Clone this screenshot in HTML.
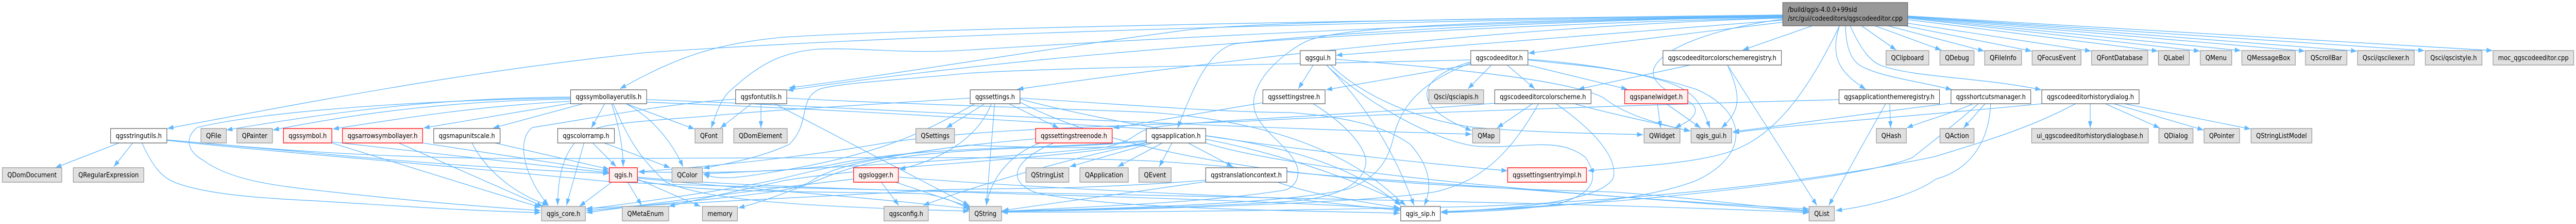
<!DOCTYPE html>
<html lang="en">
<head>
<meta charset="utf-8">
<meta name="viewport" content="width=5589">
<title>qgscodeeditor.cpp include graph</title>
<style>
html,body{margin:0;padding:0;background:#fff;width:100%;height:100%;overflow:hidden}
svg{display:block;width:100vw;height:100vh}
.e path{fill:none;stroke:#63b8ff;stroke-width:1.33;marker-end:url(#a)}
rect{stroke-width:1.33}
.g rect{fill:#e0e0e0;stroke:#999}
.w rect{fill:#fff;stroke:#666}
.r rect{fill:#fff0f0;stroke:#f00}
text{font-family:"DejaVu Sans","Liberation Sans",sans-serif;font-size:13px;fill:#000;text-anchor:middle}
.l{text-anchor:start}
</style>
</head>
<body>
<svg viewBox="0 0 5589 434" preserveAspectRatio="none" xmlns="http://www.w3.org/2000/svg">
<defs>
<marker id="a" markerUnits="userSpaceOnUse" markerWidth="14" markerHeight="10" refX="13.3" refY="4.7" orient="auto"><path d="M0,0L13.3,4.7L0,9.4z" fill="#63b8ff"/></marker>
</defs>
<g class="e">
<!-- root to row 1 -->
<path d="M3932,50L3781,97"/>
<path d="M4039,50L4114,97"/>
<path d="M4068,50L4212,97"/>
<path d="M4096,50L4305,99"/>
<path d="M4132,50L4408,99"/>
<path d="M4139,45L4537,99"/>
<path d="M4139,38L4682,99"/>
<path d="M4139,35L4773,99"/>
<path d="M4139,34L4862,98"/>
<path d="M4139,33L5001,99"/>
<path d="M4139,32L5114,99"/>
<path d="M4139,32L5260,98"/>
<path d="M4139,31L5408,98"/>
<!-- root to row 2 and lower -->
<path d="M4014,50C4040,100 4060,120 4082,127C4150,150 4300,150 4429,174"/>
<path d="M4004,50C4005,90 4015,115 4036,127C4080,150 4180,160 4235,174"/>
<path d="M3991,50C3970,110 3990,140 4048,173"/>
<path d="M3991,50C3900,220 3820,280 3730,300C3650,318 3550,322 3445,331"/>
<path d="M3868,37C3680,60 3570,110 3589,150C3610,190 3690,190 3677,220C3670,235 3650,240 3634,248"/>
<path d="M3868,39L2899,107"/>
<path d="M3868,43L3316,103"/>
<path d="M3868,35C3300,50 2700,110 2207,173"/>
<path d="M3868,33C3300,40 2800,70 2680,85C2620,95 2585,180 2555,248"/>
<path d="M3868,34C3200,50 2400,85 1708,175"/>
<path d="M3868,32C3200,40 2400,80 2100,97C1950,105 1880,92 1779,95C1690,100 1640,130 1579,180C1560,200 1552,225 1543,248"/>
<path d="M3868,31C3000,40 2000,65 1400,102C1000,140 700,193 363,249"/>
<path d="M3868,30C3000,38 2000,55 1700,72C1550,85 1470,110 1345,172"/>
<path d="M3868,31C3300,40 2900,48 2830,82C2790,100 2720,150 2720,200C2720,250 2800,280 2815,325C2820,345 2810,360 2790,368C2600,395 2350,400 2173,410"/>
<path d="M3868,29C3200,36 2700,42 2560,60C2300,90 1900,150 1712,170"/>
<!-- qgsgui -->
<path d="M2849,126L2817,172"/>
<path d="M2898,115C3200,135 3420,160 3480,190C3530,225 3600,240 3667,254"/>
<path d="M2887,126C2950,180 3060,230 3200,247C3350,258 3460,258 3565,261"/>
<path d="M2878,126C2950,190 3020,280 3068,398"/>
<path d="M2878,126C2950,190 3100,270 3200,283C3300,290 3380,262 3440,305C3470,345 3460,375 3380,395C3300,408 3200,410 3127,412"/>
<!-- qgscodeeditor -->
<path d="M3236,126L3185,172"/>
<path d="M3270,126L3330,172"/>
<path d="M3191,120C3090,145 3040,200 3193,253"/>
<path d="M3191,125L2877,174"/>
<path d="M3191,122C3090,157 3040,200 3023,267C3010,320 2980,345 2930,365C2800,395 2400,405 2173,409"/>
<path d="M3191,116C2800,125 2300,130 2100,142C1950,155 1830,160 1780,172C1730,190 1760,240 1712,280C1650,305 1590,315 1526,326"/>
<path d="M3315,115C3400,120 3550,135 3680,173C3790,215 3800,300 3680,350C3550,395 3300,405 3127,410"/>
<path d="M3315,116C3400,125 3500,130 3580,150C3680,170 3690,200 3710,248"/>
<path d="M3315,126L3531,173"/>
<!-- colorscheme registry -->
<path d="M3667,126L3424,173"/>
<path d="M3748,126C3780,190 3775,215 3735,248"/>
<path d="M3748,126L3942,398"/>
<!-- colorscheme -->
<path d="M3325,201L3248,248"/>
<path d="M3338,201C3270,310 3200,355 3112,372C2950,395 2400,408 2173,410"/>
<path d="M3376,201C3470,260 3510,310 3500,345C3470,395 3250,405 3127,411"/>
<path d="M3243,200C2900,225 2560,235 2500,248C2460,255 2470,270 2400,285C2200,305 1800,325 1526,337"/>
<path d="M3416,201C3500,222 3600,240 3668,254"/>
<!-- panel widget -->
<path d="M3596,201L3603,248"/>
<path d="M3615,201L3690,248"/>
<!-- theme registry -->
<path d="M4091,201L3968,398"/>
<path d="M4100,201L4102,248"/>
<path d="M3990,193C3400,207 2900,225 2700,235C2400,245 2100,250 1900,280C1700,310 1500,325 1385,333"/>
<!-- shortcuts -->
<path d="M4233,200C4000,225 3900,240 3760,255"/>
<path d="M4281,201C4220,225 4170,235 4137,248"/>
<path d="M4292,201C4230,250 4170,290 4150,305C4060,340 3700,375 3500,390C3300,402 3200,408 3127,412"/>
<path d="M4307,201L4260,248"/>
<path d="M4319,201C4315,280 4270,330 4200,347C4150,380 4050,400 3983,408"/>
<!-- history dialog -->
<path d="M4430,201C4200,222 3900,240 3760,257"/>
<path d="M4503,201C4400,250 4300,275 4200,303C3900,360 3500,390 3200,400C2700,410 2400,411 2173,411"/>
<path d="M4535,201L4535,248"/>
<path d="M4568,201L4686,248"/>
<path d="M4586,201L4781,252"/>
<path d="M4609,201L4883,250"/>
<!-- settings tree -->
<path d="M2740,199L2415,248"/>
<path d="M2849,201C2920,240 2970,290 2963,320C2950,370 2870,385 2800,390C2600,402 2350,406 2173,409"/>
<!-- settings -->
<path d="M2213,190C2400,200 2650,218 2800,218C2900,225 3000,240 3060,280C3100,320 3110,360 3090,398"/>
<path d="M2189,201L2297,248"/>
<path d="M2158,201L2140,398"/>
<path d="M2151,201C2120,270 2040,310 1951,328"/>
<path d="M2136,201L2053,248"/>
<path d="M2105,190C1850,205 1700,212 1600,220C1450,232 1350,235 1300,247C1260,255 1210,290 1210,398"/>
<path d="M2115,201C2000,260 1900,300 1700,330C1600,345 1560,350 1526,337"/>
<!-- font utils -->
<path d="M1630,201L1563,248"/>
<path d="M1651,201L1651,248"/>
<path d="M1681,201L2103,398"/>
<path d="M1707,190C1900,200 2300,210 2500,218C2750,235 2900,290 3000,360L3050,398"/>
<path d="M1596,192C1450,200 1280,230 1155,247C1120,270 1135,340 1190,398"/>
<!-- symbol layer utils -->
<path d="M1238,188C1000,190 800,205 491,252"/>
<path d="M1238,192C1000,195 800,215 592,252"/>
<path d="M1238,196C1050,205 900,225 722,250"/>
<path d="M1238,200L919,248"/>
<path d="M1265,201L1070,248"/>
<path d="M1238,190C1000,192 600,210 428,247C405,262 400,290 440,310C500,350 600,360 700,370C850,385 1000,398 1173,408"/>
<path d="M1312,201L1283,248"/>
<path d="M1327,201C1345,250 1352,290 1352,323"/>
<path d="M1330,201C1360,260 1380,300 1445,353C1530,385 1700,400 2103,409"/>
<path d="M1358,201C1400,220 1450,260 1482,323"/>
<path d="M1358,201L1507,250"/>
<path d="M1403,193C1800,205 2400,240 3193,260"/>
<path d="M1403,198C1900,215 2200,235 2500,250C2700,270 2900,295 3039,398"/>
<!-- colour ramp -->
<path d="M1267,277L1229,398"/>
<path d="M1286,277L1337,323"/>
<path d="M1311,277C1350,290 1400,307 1454,325"/>
<!-- map unit scale, arrow layer, symbol -->
<path d="M1024,277C1060,340 1130,380 1190,398"/>
<path d="M1074,277L1322,328"/>
<path d="M865,277L1178,400"/>
<path d="M917,277L1322,332"/>
<path d="M720,277L1173,402"/>
<path d="M720,275L1322,335"/>
<!-- string utils -->
<path d="M258,277L120,325"/>
<path d="M288,277L247,323"/>
<path d="M308,277C330,320 350,345 384,355C460,380 600,385 700,390C850,398 1000,408 1173,412"/>
<path d="M362,271L700,298C900,315 1150,330 1322,336"/>
<path d="M362,271C600,290 800,305 1100,307C1600,308 2200,300 2500,312C2650,320 2800,335 2950,345C3300,365 3700,395 3925,410"/>
<path d="M362,272C600,295 900,315 1300,350C1500,368 3300,385 3925,412"/>
<!-- qgis.h -->
<path d="M1327,353L1257,400"/>
<path d="M1362,353L1392,398"/>
<path d="M1383,347L1520,400"/>
<path d="M1383,345C1600,365 1800,375 2110,405"/>
<path d="M1383,343C1700,372 2500,375 3039,405"/>
<path d="M1383,349C1500,372 1650,370 2000,375C2050,380 2080,395 2103,405"/>
<!-- logger -->
<path d="M1949,343C2100,355 2400,370 2800,385L3039,408"/>
<path d="M1943,353L2107,402"/>
<path d="M1912,353L1950,398"/>
<path d="M1852,347C1700,362 1450,390 1272,412"/>
<!-- tree node -->
<path d="M2256,277C2190,300 2150,345 2140,398"/>
<path d="M2286,277C2200,310 2180,350 2247,373C2400,405 2800,408 3037,413"/>
<path d="M2247,269C2100,280 1900,300 1700,345C1600,365 1450,385 1272,405"/>
<!-- application -->
<path d="M2500,277L2321,323"/>
<path d="M2522,277L2425,323"/>
<path d="M2543,277L2515,323"/>
<path d="M2578,277L2675,323"/>
<path d="M2487,280C2400,290 2200,285 2100,281C1950,300 1830,315 1770,345C1740,365 1700,370 1600,380C1480,392 1380,400 1272,408"/>
<path d="M2487,272C2300,290 2000,280 1800,320C1700,335 1520,335 1385,333"/>
<path d="M2487,274C2300,290 2000,282 1850,325C1790,340 1700,380 1602,403"/>
<path d="M2487,277C2300,310 2100,365 2003,398"/>
<path d="M2487,276C2300,310 1900,320 1700,350C1600,370 1520,385 1451,400"/>
<path d="M2616,270C2800,300 3000,370 3039,395"/>
<path d="M2616,277C2800,330 3400,380 3925,405"/>
<!-- translation context -->
<path d="M2616,349C2300,372 2100,362 2000,370C1700,385 1450,395 1272,404"/>
<path d="M2616,352L2175,408"/>
<path d="M2772,353C2850,378 2950,390 3037,403"/>
<!-- settings entry -->
<path d="M2213,192C2500,260 2900,300 3271,331"/>
<path d="M2213,198C2500,330 3000,360 3500,372C3700,385 3850,405 3925,408"/>
</g>
<g class="g"><rect x="5" y="325" width="129" height="28"/><text x="69.5" y="343.5" textLength="107" lengthAdjust="spacingAndGlyphs">QDomDocument</text></g>
<g class="g"><rect x="159" y="325" width="153" height="28"/><text x="235.5" y="343.5" textLength="131" lengthAdjust="spacingAndGlyphs">QRegularExpression</text></g>
<g class="w"><rect x="240" y="249" width="122" height="28"/><text x="301" y="267.5" textLength="100" lengthAdjust="spacingAndGlyphs">qgsstringutils.h</text></g>
<g class="g"><rect x="436" y="249" width="55" height="28"/><text x="463.5" y="267.5" textLength="33" lengthAdjust="spacingAndGlyphs">QFile</text></g>
<g class="g"><rect x="514" y="249" width="77" height="28"/><text x="552.5" y="267.5" textLength="55" lengthAdjust="spacingAndGlyphs">QPainter</text></g>
<g class="r"><rect x="615" y="249" width="105" height="28"/><text x="667.5" y="267.5" textLength="83" lengthAdjust="spacingAndGlyphs">qgssymbol.h</text></g>
<g class="r"><rect x="743" y="249" width="174" height="28"/><text x="830" y="267.5" textLength="152" lengthAdjust="spacingAndGlyphs">qgsarrowsymbollayer.h</text></g>
<g class="w"><rect x="941" y="249" width="144" height="28"/><text x="1013" y="267.5" textLength="122" lengthAdjust="spacingAndGlyphs">qgsmapunitscale.h</text></g>
<g class="w"><rect x="1210" y="249" width="123" height="28"/><text x="1271.5" y="267.5" textLength="101" lengthAdjust="spacingAndGlyphs">qgscolorramp.h</text></g>
<g class="w"><rect x="1238" y="174" width="165" height="27"/><text x="1320.5" y="192" textLength="143" lengthAdjust="spacingAndGlyphs">qgssymbollayerutils.h</text></g>
<g class="r"><rect x="1322" y="325" width="61" height="28"/><text x="1352.5" y="343.5" textLength="39" lengthAdjust="spacingAndGlyphs">qgis.h</text></g>
<g class="g"><rect x="1175" y="400" width="95" height="28"/><text x="1222.5" y="418.5" textLength="73" lengthAdjust="spacingAndGlyphs">qgis_core.h</text></g>
<g class="g"><rect x="1350" y="400" width="101" height="28"/><text x="1400.5" y="418.5" textLength="79" lengthAdjust="spacingAndGlyphs">QMetaEnum</text></g>
<g class="w"><rect x="1596" y="174" width="111" height="27"/><text x="1651.5" y="192" textLength="89" lengthAdjust="spacingAndGlyphs">qgsfontutils.h</text></g>
<g class="g"><rect x="1508" y="249" width="60" height="28"/><text x="1538" y="267.5" textLength="38" lengthAdjust="spacingAndGlyphs">QFont</text></g>
<g class="g"><rect x="1592" y="249" width="116" height="28"/><text x="1650" y="267.5" textLength="94" lengthAdjust="spacingAndGlyphs">QDomElement</text></g>
<g class="g"><rect x="1987" y="249" width="84" height="28"/><text x="2029" y="267.5" textLength="62" lengthAdjust="spacingAndGlyphs">QSettings</text></g>
<g class="g"><rect x="1458" y="325" width="66" height="28"/><text x="1491" y="343.5" textLength="44" lengthAdjust="spacingAndGlyphs">QColor</text></g>
<g class="r"><rect x="1852" y="325" width="97" height="28"/><text x="1900.5" y="343.5" textLength="75" lengthAdjust="spacingAndGlyphs">qgslogger.h</text></g>
<g class="g"><rect x="1524" y="400" width="76" height="28"/><text x="1562" y="418.5" textLength="54" lengthAdjust="spacingAndGlyphs">memory</text></g>
<g class="g"><rect x="1918" y="400" width="96" height="28"/><text x="1966" y="418.5" textLength="74" lengthAdjust="spacingAndGlyphs">qgsconfig.h</text></g>
<g class="w"><rect x="2105" y="174" width="108" height="27"/><text x="2159" y="192" textLength="86" lengthAdjust="spacingAndGlyphs">qgssettings.h</text></g>
<g class="r"><rect x="2247" y="249" width="166" height="28"/><text x="2330" y="267.5" textLength="144" lengthAdjust="spacingAndGlyphs">qgssettingstreenode.h</text></g>
<g class="w"><rect x="2487" y="249" width="129" height="28"/><text x="2551.5" y="267.5" textLength="107" lengthAdjust="spacingAndGlyphs">qgsapplication.h</text></g>
<g class="g"><rect x="2226" y="325" width="93" height="28"/><text x="2272.5" y="343.5" textLength="71" lengthAdjust="spacingAndGlyphs">QStringList</text></g>
<g class="g"><rect x="2343" y="325" width="105" height="28"/><text x="2395.5" y="343.5" textLength="83" lengthAdjust="spacingAndGlyphs">QApplication</text></g>
<g class="g"><rect x="2471" y="325" width="70" height="28"/><text x="2506" y="343.5" textLength="48" lengthAdjust="spacingAndGlyphs">QEvent</text></g>
<g class="w"><rect x="2616" y="325" width="176" height="28"/><text x="2704" y="343.5" textLength="154" lengthAdjust="spacingAndGlyphs">qgstranslationcontext.h</text></g>
<g class="g"><rect x="2103" y="400" width="70" height="28"/><text x="2138" y="418.5" textLength="48" lengthAdjust="spacingAndGlyphs">QString</text></g>
<g class="w"><rect x="2740" y="174" width="135" height="27"/><text x="2807.5" y="192" textLength="113" lengthAdjust="spacingAndGlyphs">qgssettingstree.h</text></g>
<g class="w"><rect x="2821" y="98" width="77" height="28"/><text x="2859.5" y="116.5" textLength="55" lengthAdjust="spacingAndGlyphs">qgsgui.h</text></g>
<g class="w"><rect x="3191" y="98" width="124" height="28"/><text x="3253" y="116.5" textLength="102" lengthAdjust="spacingAndGlyphs">qgscodeeditor.h</text></g>
<g class="g"><rect x="3100" y="174" width="119" height="27"/><text x="3159.5" y="192" textLength="97" lengthAdjust="spacingAndGlyphs">Qsci/qsciapis.h</text></g>
<g class="w"><rect x="3243" y="174" width="209" height="27"/><text x="3347.5" y="192" textLength="187" lengthAdjust="spacingAndGlyphs">qgscodeeditorcolorscheme.h</text></g>
<g class="g"><rect x="3195" y="249" width="59" height="28"/><text x="3224.5" y="267.5" textLength="37" lengthAdjust="spacingAndGlyphs">QMap</text></g>
<g class="r"><rect x="3271" y="325" width="171" height="28"/><text x="3356.5" y="343.5" textLength="149" lengthAdjust="spacingAndGlyphs">qgssettingsentryimpl.h</text></g>
<g class="w"><rect x="3039" y="400" width="86" height="28"/><text x="3082" y="418.5" textLength="64" lengthAdjust="spacingAndGlyphs">qgis_sip.h</text></g>
<g class="w"><rect x="3608" y="98" width="257" height="28"/><text x="3736.5" y="116.5" textLength="235" lengthAdjust="spacingAndGlyphs">qgscodeeditorcolorschemeregistry.h</text></g>
<g class="g"><rect x="4092" y="98" width="93" height="28"/><text x="4138.5" y="116.5" textLength="71" lengthAdjust="spacingAndGlyphs">QClipboard</text></g>
<g class="r"><rect x="3525" y="174" width="137" height="27"/><text x="3593.5" y="192" textLength="115" lengthAdjust="spacingAndGlyphs">qgspanelwidget.h</text></g>
<g class="w"><rect x="3990" y="174" width="218" height="27"/><text x="4099" y="192" textLength="196" lengthAdjust="spacingAndGlyphs">qgsapplicationthemeregistry.h</text></g>
<g class="g"><rect x="3567" y="249" width="78" height="28"/><text x="3606" y="267.5" textLength="56" lengthAdjust="spacingAndGlyphs">QWidget</text></g>
<g class="g"><rect x="3669" y="249" width="88" height="28"/><text x="3713" y="267.5" textLength="66" lengthAdjust="spacingAndGlyphs">qgis_gui.h</text></g>
<g class="g"><rect x="4071" y="249" width="65" height="28"/><text x="4103.5" y="267.5" textLength="43" lengthAdjust="spacingAndGlyphs">QHash</text></g>
<g class="g"><rect x="3925" y="400" width="55" height="28"/><text x="3952.5" y="418.5" textLength="33" lengthAdjust="spacingAndGlyphs">QList</text></g>
<g class="g"><rect x="4209" y="98" width="74" height="28"/><text x="4246" y="116.5" textLength="52" lengthAdjust="spacingAndGlyphs">QDebug</text></g>
<g class="g"><rect x="4306" y="98" width="80" height="28"/><text x="4346" y="116.5" textLength="58" lengthAdjust="spacingAndGlyphs">QFileInfo</text></g>
<g class="g"><rect x="4409" y="98" width="106" height="28"/><text x="4462" y="116.5" textLength="84" lengthAdjust="spacingAndGlyphs">QFocusEvent</text></g>
<g class="g"><rect x="4538" y="98" width="122" height="28"/><text x="4599" y="116.5" textLength="100" lengthAdjust="spacingAndGlyphs">QFontDatabase</text></g>
<g class="g"><rect x="4683" y="98" width="67" height="28"/><text x="4716.5" y="116.5" textLength="45" lengthAdjust="spacingAndGlyphs">QLabel</text></g>
<g class="g"><rect x="4774" y="98" width="68" height="28"/><text x="4808" y="116.5" textLength="46" lengthAdjust="spacingAndGlyphs">QMenu</text></g>
<g class="g"><rect x="4864" y="98" width="116" height="28"/><text x="4922" y="116.5" textLength="94" lengthAdjust="spacingAndGlyphs">QMessageBox</text></g>
<g class="w"><rect x="4233" y="174" width="173" height="27"/><text x="4319.5" y="192" textLength="151" lengthAdjust="spacingAndGlyphs">qgsshortcutsmanager.h</text></g>
<g class="w"><rect x="4430" y="174" width="211" height="27"/><text x="4535.5" y="192" textLength="189" lengthAdjust="spacingAndGlyphs">qgscodeeditorhistorydialog.h</text></g>
<g class="g"><rect x="4209" y="249" width="74" height="28"/><text x="4246" y="267.5" textLength="52" lengthAdjust="spacingAndGlyphs">QAction</text></g>
<g class="g"><rect x="4408" y="249" width="253" height="28"/><text x="4534.5" y="267.5" textLength="231" lengthAdjust="spacingAndGlyphs">ui_qgscodeeditorhistorydialogbase.h</text></g>
<g class="g"><rect x="4684" y="249" width="74" height="28"/><text x="4721" y="267.5" textLength="52" lengthAdjust="spacingAndGlyphs">QDialog</text></g>
<g class="g"><rect x="4782" y="249" width="77" height="28"/><text x="4820.5" y="267.5" textLength="55" lengthAdjust="spacingAndGlyphs">QPointer</text></g>
<g class="g"><rect x="4884" y="249" width="132" height="28"/><text x="4950" y="267.5" textLength="110" lengthAdjust="spacingAndGlyphs">QStringListModel</text></g>
<g class="g"><rect x="5002" y="98" width="90" height="28"/><text x="5047" y="116.5" textLength="68" lengthAdjust="spacingAndGlyphs">QScrollBar</text></g>
<g class="g"><rect x="5115" y="98" width="123" height="28"/><text x="5176.5" y="116.5" textLength="101" lengthAdjust="spacingAndGlyphs">Qsci/qscilexer.h</text></g>
<g class="g"><rect x="5262" y="98" width="123" height="28"/><text x="5323.5" y="116.5" textLength="101" lengthAdjust="spacingAndGlyphs">Qsci/qscistyle.h</text></g>
<g class="g"><rect x="5409" y="98" width="175" height="28"/><text x="5496.5" y="116.5" textLength="153" lengthAdjust="spacingAndGlyphs">moc_qgscodeeditor.cpp</text></g>
<g><rect x="3868" y="5" width="271" height="45" fill="#999" stroke="#666"/>
<text class="l" x="3879" y="23" textLength="150" lengthAdjust="spacingAndGlyphs">/build/qgis-4.0.0+99sid</text>
<text class="l" x="3879" y="40" textLength="249" lengthAdjust="spacingAndGlyphs">/src/gui/codeeditors/qgscodeeditor.cpp</text></g>
</svg>
</body>
</html>
